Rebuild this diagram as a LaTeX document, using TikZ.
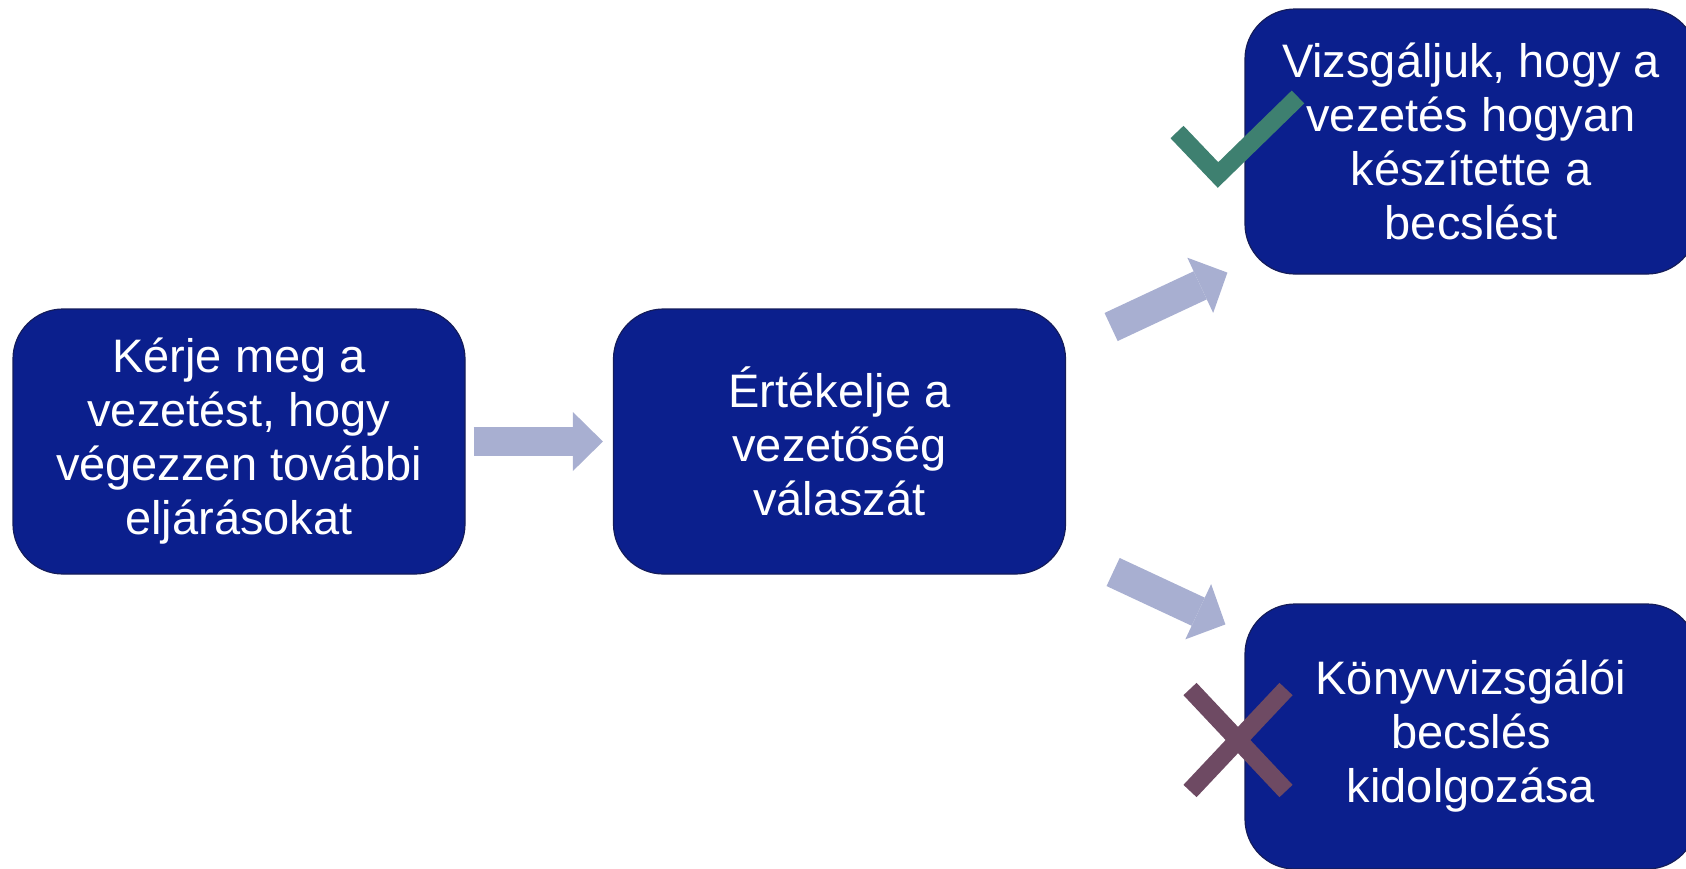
\documentclass[tikz,border=0pt]{standalone}
\usepackage{fontspec}
\setmainfont{Liberation Sans}
\usetikzlibrary{arrows.meta,calc}
\definecolor{boxblue}{RGB}{11,31,141}
\definecolor{boxline}{RGB}{20,28,90}
\definecolor{arrowblue}{RGB}{168,175,209}
\definecolor{checkgreen}{RGB}{62,128,112}
\definecolor{crosspurple}{RGB}{110,74,99}
\tikzset{
  stepbox/.style={rectangle, rounded corners=25pt, fill=boxblue, draw=boxline,
    line width=0.6pt, minimum width=226pt, minimum height=132.5pt, text=white,
    align=center, inner sep=0pt, font=\fontsize{23.5}{27}\selectfont},
  blockarrow/.style={draw=arrowblue, line width=14.5pt,
    -{Triangle[width=29.5pt,length=15pt,line width=0pt,fill=arrowblue]}},
  diagarrow/.style={draw=arrowblue, line width=15.5pt,
    -{Triangle[width=30.5pt,length=15pt,line width=0pt,fill=arrowblue]}},
  tickmark/.style={draw=checkgreen, line width=9pt, line cap=butt, line join=miter},
  crossmark/.style={draw=crosspurple, line width=9pt, line cap=butt}
}
\begin{document}
\begin{tikzpicture}[x=0.5pt,y=-0.5pt]
\useasboundingbox (0,0) rectangle (1686,868);
\clip (0,0) rectangle (1686,868);
\node[stepbox] (b1) at (239,441.5) {Kérje meg a\\vezetést, hogy\\végezzen további\\eljárásokat};
\node[stepbox] (b2) at (839.5,441.5) {Értékelje a\\vezetőség\\válaszát};
\node[stepbox] (b3) at (1471,141.5) {Vizsgáljuk, hogy a\\vezetés hogyan\\készítette a\\becslést};
\node[stepbox] (b4) at (1471,736.5) {Könyvvizsgálói\\becslés\\kidolgozása};
\coordinate (a1s) at ($(b1.east)+(8,0)$);
\coordinate (a1e) at ($(b2.west)+(-10,0)$);
\coordinate (a2s) at ($(b2.east)+(45,-114.5)$);
\coordinate (a2e) at ($(b3.south west)+(-17,-2)$);
\coordinate (a3s) at ($(b2.east)+(47,130.5)$);
\coordinate (a3e) at ($(b4.north west)+(-19,21)$);
\draw[blockarrow] (a1s) -- (a1e);
\draw[diagarrow] (a2s) -- (a2e);
\draw[diagarrow] (a3s) -- (a3e);
\draw[tickmark] (1177,132) -- (1218,175) -- (1298,97);
\draw[crossmark] (1190,689) -- (1286,791);
\draw[crossmark] (1286,689) -- (1190,791);
\end{tikzpicture}
\end{document}
